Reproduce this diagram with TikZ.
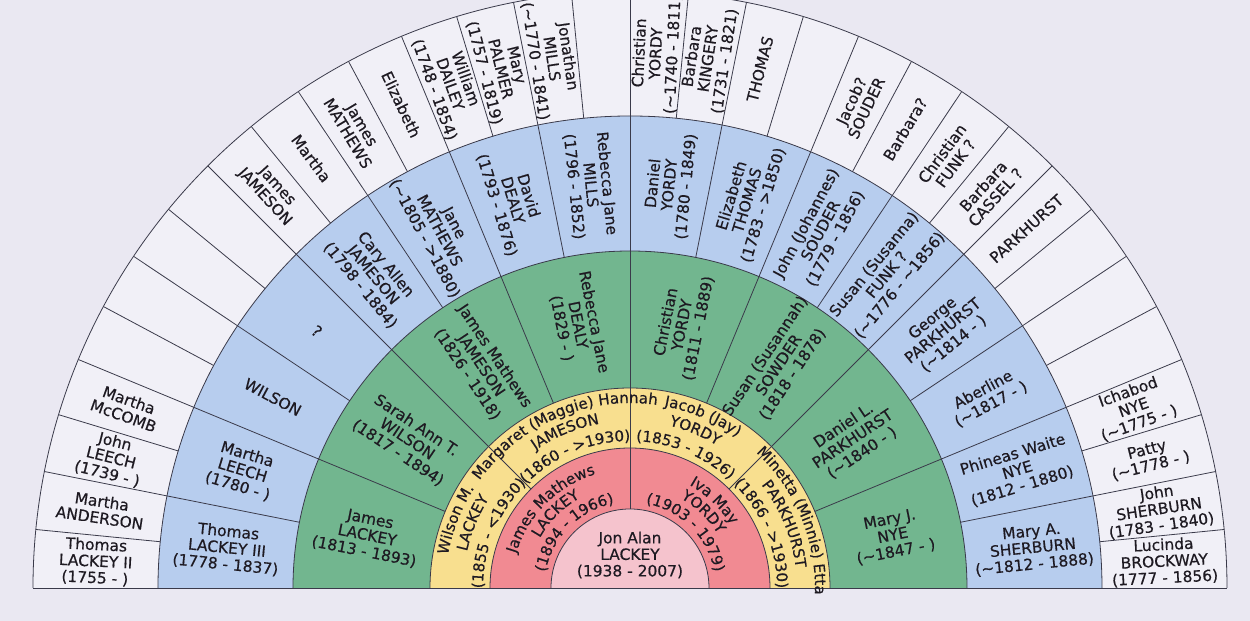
\documentclass[tikz,border=0pt]{standalone}
\usepackage{fontspec}
\setmainfont{DejaVu Sans}[FakeBold=0.5]
\usetikzlibrary{decorations.text}

\definecolor{bgc}{HTML}{EAE8F2}
\definecolor{outerc}{HTML}{F1F0F7}
\definecolor{bluec}{HTML}{B7CDEE}
\definecolor{greenc}{HTML}{72B68F}
\definecolor{yellowc}{HTML}{F8DF8F}
\definecolor{redc}{HTML}{F18A92}
\definecolor{pinkc}{HTML}{F5C3CD}
\definecolor{linec}{HTML}{3A3A4A}
\definecolor{inkc}{HTML}{1E1A22}

\newcommand{\lblfont}{\fontsize{11.6}{12.4}\selectfont}
\newcommand{\arcfont}{\fontsize{11.3}{12}\selectfont}
\newcommand{\apx}{\textasciitilde}
% curved label: radius, centre angle, text
\newcommand{\arclbl}[3]{%
  \path[decorate, decoration={text along path, text align=center, text color=inkc,
      text={|\arcfont|#3}}]
    ({#2+75}:#1) arc[start angle={#2+75}, end angle={#2-75}, radius=#1];}

\begin{document}
\begin{tikzpicture}[x=0.75pt, y=0.75pt,
    lbl/.style={align=center, inner sep=0pt, font=\lblfont, text=inkc},
    rim/.style={draw=linec, line width=0.6pt}]
  \useasboundingbox (-630,-33) rectangle (620,588);
  \fill[bgc] (-630,-33) rectangle (620,588);
  \clip (-630,-33) rectangle (620,588);

  % rings
  \fill[outerc] (0:597) arc[start angle=0, end angle=180, radius=597] -- cycle;
  \fill[bluec] (0:472) arc[start angle=0, end angle=180, radius=472] -- cycle;
  \fill[greenc] (0:337) arc[start angle=0, end angle=180, radius=337] -- cycle;
  \fill[yellowc] (0:200) arc[start angle=0, end angle=180, radius=200] -- cycle;
  \fill[redc] (0:140) arc[start angle=0, end angle=180, radius=140] -- cycle;
  \fill[pinkc] (0:79) arc[start angle=0, end angle=180, radius=79] -- cycle;

  \foreach \r in {79,140,200,337,472,597}
    \draw[rim] (0:\r) arc[start angle=0, end angle=180, radius=\r];
  \draw[rim] (180:597) -- (0:597);

  % dividers
  \draw[rim] (90:79) -- (90:597);
  \foreach \a in {45,135}
    \draw[rim] (\a:140) -- (\a:597);
  \foreach \a in {22.5,67.5,112.5,157.5}
    \draw[rim] (\a:200) -- (\a:597);
  \foreach \a in {11.25,33.75,56.25,78.75,101.25,123.75,146.25,168.75}
    \draw[rim] (\a:337) -- (\a:597);
  \foreach \k in {1,3,...,31}
    \draw[rim] ({\k*5.625}:472) -- ({\k*5.625}:597);

  % centre
  \node[lbl] (jon) at (0,33) {Jon Alan\\LACKEY\\(1938 - 2007)};

  % parents
  \arclbl{119}{135}{James Mathews}
  \arclbl{103}{135}{LACKEY}
  \arclbl{86}{135}{(1894 - 1966)}
  \arclbl{119}{46}{Iva May}
  \arclbl{103}{46}{YORDY}
  \arclbl{86}{45}{(1903 - 1979)}

  % grandparents
  \arclbl{185}{158.5}{Wilson M.}
  \arclbl{167}{157.5}{LACKEY}
  \arclbl{147}{157.5}{(1855 - <1930)}
  \arclbl{185}{113}{Margaret (Maggie) Hannah}
  \arclbl{167}{112.5}{JAMESON}
  \arclbl{147}{112.5}{(1860 - >1930)}
  \arclbl{185}{67}{Jacob (Jay)}
  \arclbl{167}{67.5}{YORDY}
  \arclbl{147}{67.5}{(1853 - 1926)}
  \arclbl{185}{22.5}{Minetta (Minnie) Etta}
  \arclbl{167}{22.5}{PARKHURST}
  \arclbl{147}{22.5}{(1866 - >1930)}

  % great-grandparents
  \node[lbl, rotate=-11.25] (g1) at (168.75:268) {James\\LACKEY\\(1813 - 1893)};
  \node[lbl, rotate=-33.75] (g2) at (146.25:268) {Sarah Ann T.\\WILSON\\(1817 - 1894)};
  \node[lbl, rotate=-56.25] (g3) at (123.75:268) {James Mathews\\JAMESON\\(1826 - 1918)};
  \node[lbl, rotate=-78.75] (g4) at (101.25:268) {Rebecca Jane\\DEALY\\(1829 - )};
  \node[lbl, rotate=78.75] (g5) at (78.75:268) {Christian\\YORDY\\(1811 - 1889)};
  \node[lbl, rotate=56.25] (g6) at (56.25:268) {Susan (Susannah)\\SOWDER\\(1818 - 1878)};
  \node[lbl, rotate=33.75] (g7) at (33.75:268) {Daniel L.\\PARKHURST\\(\apx1840 - )};
  \node[lbl, rotate=11.25] (g8) at (11.25:268) {Mary J.\\NYE\\(\apx1847 - )};

  % 2x great-grandparents
  \node[lbl, rotate=-5.625] (b1) at (174.375:405) {Thomas\\LACKEY III\\(1778 - 1837)};
  \node[lbl, rotate=-16.875] (b2) at (163.125:405) {Martha\\LEECH\\(1780 - )};
  \node[lbl, rotate=-28.125] (b3) at (151.875:405) {WILSON};
  \node[lbl, rotate=-39.375] (b4) at (140.625:405) {?};
  \node[lbl, rotate=-50.625] (b5) at (129.375:405) {Cary Allen\\JAMESON\\(1798 - 1884)};
  \node[lbl, rotate=-61.875] (b6) at (118.125:405) {Jane\\MATHEWS\\(\apx1805 - >1880)};
  \node[lbl, rotate=-73.125] (b7) at (106.875:405) {David\\DEALY\\(1793 - 1876)};
  \node[lbl, rotate=-84.375] (b8) at (95.625:405) {Rebecca Jane\\MILLS\\(1796 - 1852)};
  \node[lbl, rotate=84.375] (b9) at (84.375:405) {Daniel\\YORDY\\(1780 - 1849)};
  \node[lbl, rotate=73.125] (b10) at (73.125:405) {Elizabeth\\THOMAS\\(1783 - >1850)};
  \node[lbl, rotate=61.875] (b11) at (61.875:405) {John (Johannes)\\SOUDER\\(1779 - 1856)};
  \node[lbl, rotate=50.625] (b12) at (50.625:405) {Susan (Susanna)\\FUNK ?\\(\apx1776 - \apx1856)};
  \node[lbl, rotate=39.375] (b13) at (39.375:405) {George\\PARKHURST\\(\apx1814 - )};
  \node[lbl, rotate=28.125] (b14) at (28.125:405) {Aberline\\(\apx1817 - )};
  \node[lbl, rotate=16.875] (b15) at (16.875:405) {Phineas Waite\\NYE\\(1812 - 1880)};
  \node[lbl, rotate=5.625] (b16) at (5.625:405) {Mary A.\\SHERBURN\\(\apx1812 - 1888)};

  % 3x great-grandparents
  \node[lbl, rotate=-2.8125] (o1) at (177.1875:535) {Thomas\\LACKEY II\\(1755 - )};
  \node[lbl, rotate=-8.4375] (o2) at (171.5625:535) {Martha\\ANDERSON};
  \node[lbl, rotate=-14.0625] (o3) at (165.9375:535) {John\\LEECH\\(1739 - )};
  \node[lbl, rotate=-19.6875] (o4) at (160.3125:535) {Martha\\McCOMB};
  \node[lbl, rotate=-47.8125] (o9) at (132.1875:535) {James\\JAMESON};
  \node[lbl, rotate=-53.4375] (o10) at (126.5625:535) {Martha};
  \node[lbl, rotate=-59.0625] (o11) at (120.9375:535) {James\\MATHEWS};
  \node[lbl, rotate=-64.6875] (o12) at (115.3125:535) {Elizabeth};
  \node[lbl, rotate=-70.3125] (o13) at (109.6875:535) {William\\DAILEY\\(1748 - 1854)};
  \node[lbl, rotate=-75.9375] (o14) at (104.0625:535) {Mary\\PALMER\\(1757 - 1819)};
  \node[lbl, rotate=-81.5625] (o15) at (98.4375:535) {Jonathan\\MILLS\\(\apx1770 - 1841)};
  \node[lbl, rotate=87.1875] (o17) at (87.1875:535) {Christian\\YORDY\\(\apx1740 - 1811)};
  \node[lbl, rotate=81.5625] (o18) at (81.5625:535) {Barbara\\KINGERY\\(1731 - 1821)};
  \node[lbl, rotate=75.9375] (o19) at (75.9375:535) {THOMAS};
  \node[lbl, rotate=64.6875] (o21) at (64.6875:535) {Jacob?\\SOUDER};
  \node[lbl, rotate=59.0625] (o22) at (59.0625:535) {Barbara?};
  \node[lbl, rotate=53.4375] (o23) at (53.4375:535) {Christian\\FUNK ?};
  \node[lbl, rotate=47.8125] (o24) at (47.8125:535) {Barbara\\CASSEL ?};
  \node[lbl, rotate=42.1875] (o25) at (42.1875:535) {PARKHURST};
  \node[lbl, rotate=19.6875] (o29) at (19.6875:535) {Ichabod\\NYE\\(\apx1775 - )};
  \node[lbl, rotate=14.0625] (o30) at (14.0625:535) {Patty\\(\apx1778 - )};
  \node[lbl, rotate=8.4375] (o31) at (8.4375:535) {John\\SHERBURN\\(1783 - 1840)};
  \node[lbl, rotate=2.8125] (o32) at (2.8125:535) {Lucinda\\BROCKWAY\\(1777 - 1856)};
\end{tikzpicture}
\end{document}
